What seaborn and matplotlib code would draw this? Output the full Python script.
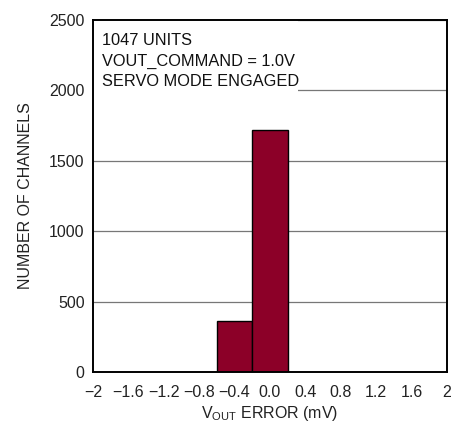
"""Histogramm: VOUT-Fehler im Servo-Modus."""

import matplotlib
import pandas as pd
import seaborn as sns

matplotlib.use("Agg")

import matplotlib.pyplot as plt
from matplotlib.patches import Rectangle

# Daten
bin_edges = [-0.6, -0.2, 0.2]
channel_counts = [360, 1720]
x_ticks = [-2, -1.6, -1.2, -0.8, -0.4, 0.0, 0.4, 0.8, 1.2, 1.6, 2]
x_tick_labels = ["\u22122", "\u22121.6", "\u22121.2", "\u22120.8", "\u22120.4",
                 "0.0", "0.4", "0.8", "1.2", "1.6", "2"]
y_ticks = [0, 500, 1000, 1500, 2000, 2500]
note_lines = ["1047 UNITS", "VOUT_COMMAND = 1.0V", "SERVO MODE ENGAGED"]

sns.set_style("white")
plt.rcParams["font.family"] = ["Liberation Sans", "DejaVu Sans"]
plt.rcParams["mathtext.fontset"] = "custom"
plt.rcParams["mathtext.rm"] = "Liberation Sans"
plt.rcParams["mathtext.it"] = "Liberation Sans"

centers = [(a + b) / 2 for a, b in zip(bin_edges[:-1], bin_edges[1:])]
plot_df = pd.DataFrame({"error": centers, "count": channel_counts})

fig = plt.figure(figsize=(4.66, 4.25), dpi=100)
ax = fig.add_axes([0.1996, 0.1247, 0.7594, 0.8283])

sns.histplot(data=plot_df, x="error", weights="count", bins=bin_edges,
             color="#8c0028", edgecolor="black", linewidth=1.0, alpha=1.0, ax=ax)

ax.set_xlim(-2, 2)
ax.set_ylim(0, 2500)
ax.set_xticks(x_ticks)
ax.set_xticklabels(x_tick_labels)
ax.set_yticks(y_ticks)
ax.tick_params(axis="x", length=0, labelsize=11.5, colors="#222222", pad=9)
ax.tick_params(axis="y", length=0, labelsize=11.5, colors="#222222", pad=6)
ax.grid(True, axis="y", color="#777777", linewidth=0.9)
ax.set_axisbelow(True)
for spine in ax.spines.values():
    spine.set_color("black")
    spine.set_linewidth(1.4)

ax.set_xlabel("V$_{\\mathrm{OUT}}$ ERROR (mV)", fontsize=11.5, color="#222222", labelpad=3)
ax.set_ylabel("NUMBER OF CHANNELS", fontsize=11.5, color="#222222", labelpad=12)

# weisser Hintergrund hinter dem Hinweistext (deckt die 2000er-Gitterlinie ab)
ax.add_patch(Rectangle((0, 0.77), 0.58, 0.23, transform=ax.transAxes,
                       facecolor="white", edgecolor="none", zorder=1.5))
ax.text(0.025, 0.962, "\n".join(note_lines), transform=ax.transAxes,
        fontsize=11.8, color="#111111", va="top", ha="left",
        linespacing=1.45, zorder=3)

fig.savefig("out.png", dpi=100)
plt.close(fig)
